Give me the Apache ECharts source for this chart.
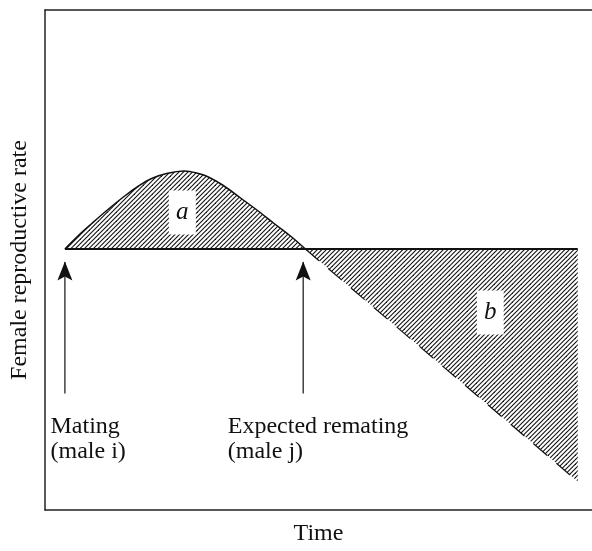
<!DOCTYPE html>
<html><head><meta charset="utf-8">
<script src="https://cdn.jsdelivr.net/npm/echarts@6/dist/echarts.min.js"></script>
<style>html,body{margin:0;padding:0;background:#fff}#c{width:592px;height:551px}</style>
</head><body><div id="c"></div>
<script>
// ---- data (arbitrary time / rate units) ----
const humpX = [3.64, 5.83, 8.56, 11.29, 14.57, 17.12, 19.49, 22.22, 25.50, 28.05, 29.87, 32.60, 35.88, 38.98, 41.89, 44.99, 47.6];
const humpY = [52.2, 54.6, 57.3, 59.9, 62.8, 64.8, 66.3, 67.3, 67.8, 67.3, 66.6, 64.9, 62.3, 59.8, 57.3, 54.7, 52.2];
const baselineY = 52.2;
const baselineX = [3.64, 97.4];
const declineX = [47.6, 97.4];
const declineY = [52.2, 5.7];
const arrowX = [3.64, 47.2];
const arrowBottomY = 23.3;
const arrowTipY = 49.6;
const eventLabels = ['Mating\n(male i)', 'Expected remating\n(male j)'];
const eventLabelX = [1.1, 33.5];
const eventLabelY = 19.0;
const areaLabels = ['a', 'b'];
const areaLabelX = [25.1, 81.4];
const areaLabelY = [59.5, 39.5];

const FONT = 'Liberation Serif';
const INK = '#111';

// hatch pattern
function hatch() {
  const s = 9, step = 4.5;
  const cv = document.createElement('canvas');
  cv.width = s; cv.height = s;
  const g = cv.getContext('2d');
  g.strokeStyle = '#111';
  g.lineWidth = 1.1;
  for (let c = -2 * s; c <= 3 * s; c += step) {
    g.beginPath();
    g.moveTo(c + 2, -2);
    g.lineTo(c - s - 2, s + 2);
    g.stroke();
  }
  return { image: cv, repeat: 'repeat' };
}
const pat = hatch();

const zip = (xs, ys) => xs.map((x, i) => [x, ys[i]]);

const series = [
  {
    type: 'line', data: zip(humpX, humpY), smooth: 0.35, symbol: 'none',
    lineStyle: { color: INK, width: 1.5 },
    areaStyle: { color: pat, opacity: 1, origin: baselineY }, z: 2
  },
  {
    type: 'line', data: zip(declineX, declineY), symbol: 'none',
    lineStyle: { color: INK, width: 1.2, type: [18, 12] },
    areaStyle: { color: pat, opacity: 1, origin: baselineY }, z: 2
  },
  {
    type: 'line', data: baselineX.map(x => [x, baselineY]), symbol: 'none',
    lineStyle: { color: INK, width: 2 }, z: 3
  }
];
arrowX.forEach(x => {
  series.push({
    type: 'line', z: 4,
    data: [
      { value: [x, arrowBottomY], symbol: 'none' },
      { value: [x, arrowTipY], symbol: 'path://M0,0 L8,19 L0,15 L-8,19 Z', symbolSize: [15, 19], symbolOffset: [0, 9] }
    ],
    lineStyle: { color: INK, width: 1.2 },
    itemStyle: { color: INK },
    showSymbol: true
  });
});
series.push({
  type: 'scatter', z: 5, clip: false, symbol: 'rect', symbolSize: [27, 44],
  itemStyle: { color: '#fff', opacity: 1 },
  data: areaLabels.map((t, i) => ({ value: [areaLabelX[i], areaLabelY[i]], name: t })),
  label: { show: true, position: 'inside', formatter: p => p.name, fontFamily: FONT, fontStyle: 'italic', fontSize: 25, color: INK, opacity: 1 }
});
series.push({
  type: 'scatter', z: 5, clip: false, symbolSize: 1,
  itemStyle: { color: 'rgba(0,0,0,0)', opacity: 1 },
  data: eventLabels.map((t, i) => ({ value: [eventLabelX[i], eventLabelY], name: t })),
  label: { show: true, position: [0, 0], align: 'left', verticalAlign: 'top', formatter: p => p.name, fontFamily: FONT, fontSize: 24, lineHeight: 25, color: INK, opacity: 1 }
});

const axisLineStyle = { show: true, lineStyle: { color: '#222', width: 1.5 } };
const chart = echarts.init(document.getElementById('c'));
chart.setOption({
  animation: false,
  grid: { left: 43, right: 0, top: 10, bottom: 35 },
  xAxis: [{
    type: 'value', min: 0, max: 100, position: 'bottom',
    name: 'Time', nameLocation: 'middle', nameGap: 12,
    nameTextStyle: { fontFamily: FONT, fontSize: 24, color: INK },
    axisLine: axisLineStyle, axisTick: { show: false }, axisLabel: { show: false }, splitLine: { show: false }
  }, {
    type: 'value', min: 0, max: 100, position: 'top',
    axisLine: axisLineStyle, axisTick: { show: false }, axisLabel: { show: false }, splitLine: { show: false }
  }],
  yAxis: {
    type: 'value', min: 0, max: 100, position: 'left',
    name: 'Female reproductive rate', nameLocation: 'middle', nameGap: 13,
    nameTextStyle: { fontFamily: FONT, fontSize: 24, color: INK },
    axisLine: axisLineStyle, axisTick: { show: false }, axisLabel: { show: false }, splitLine: { show: false }
  },
  series: series
});
</script>
</body></html>
